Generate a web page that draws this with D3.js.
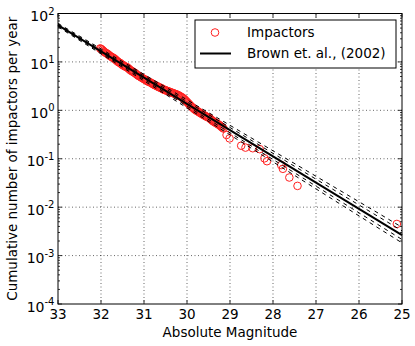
<!DOCTYPE html>
<html>
<head>
<meta charset="utf-8">
<script src="https://cdn.jsdelivr.net/npm/d3@7"></script>
<style>
  body { margin: 0; background: #fff; }
  svg text { font-family: "DejaVu Sans", sans-serif; fill: #000; }
</style>
</head>
<body>
<div id="chart"></div>
<script>
// Impactors: absolute magnitude and cumulative number per year
const impactH = [32.02, 32.00, 31.975, 31.95, 31.925, 31.90, 31.875, 31.85, 31.825, 31.80,
  31.775, 31.75, 31.725, 31.70, 31.675, 31.65, 31.625, 31.60, 31.575, 31.55,
  31.525, 31.50, 31.475, 31.45, 31.425, 31.40, 31.375, 31.35, 31.325, 31.30,
  31.275, 31.25, 31.225, 31.20, 31.175, 31.15, 31.125, 31.10, 31.075, 31.05,
  31.025, 31.00, 30.975, 30.95, 30.925, 30.90, 30.875, 30.85, 30.825, 30.80,
  30.775, 30.75, 30.725, 30.70, 30.675, 30.65, 30.625, 30.60, 30.575, 30.55,
  30.525, 30.50, 30.475, 30.45, 30.425, 30.40, 30.375, 30.35, 30.325, 30.30,
  30.275, 30.25, 30.225, 30.20, 30.175, 30.15, 30.125, 30.10, 30.075, 30.05,
  30.025, 30.00, 29.975, 29.95, 29.925, 29.90, 29.875, 29.85, 29.825, 29.80,
  29.775, 29.75, 29.725, 29.70, 29.675, 29.65, 29.625, 29.60, 29.575, 29.55,
  29.525, 29.50, 29.475, 29.45, 29.425, 29.40, 29.375, 29.35, 29.325, 29.30,
  29.275, 29.25, 29.225, 29.20, 29.175, 29.15,
  29.08, 29.01, 28.74, 28.64, 28.47, 28.31, 28.20, 28.14, 27.81, 27.77,
  27.62, 27.43, 25.12];
const impactN = [19.0, 18.6, 17.8, 17.0, 16.2, 15.6, 15.1, 14.7, 14.1, 13.5,
  13.0, 12.6, 12.3, 11.9, 11.4, 10.9, 10.4, 10.0, 9.7, 9.4,
  9.0, 8.65, 8.4, 8.13, 7.95, 7.82, 7.5, 7.18, 6.85, 6.59,
  6.4, 6.19, 6.0, 5.81, 5.55, 5.33, 5.15, 5.01, 4.86, 4.71,
  4.57, 4.43, 4.3, 4.16, 4.03, 3.91, 3.84, 3.76, 3.64, 3.53,
  3.42, 3.31, 3.25, 3.18, 3.08, 2.99, 2.94, 2.88, 2.79, 2.70,
  2.65, 2.60, 2.55, 2.50, 2.45, 2.40, 2.36, 2.31, 2.27, 2.22,
  2.18, 2.14, 2.10, 2.05, 1.99, 1.93, 1.87, 1.81, 1.74, 1.66,
  1.57, 1.49, 1.41, 1.34, 1.27, 1.20, 1.15, 1.10, 1.05, 1.01,
  0.98, 0.955, 0.92, 0.893, 0.865, 0.839, 0.81, 0.789, 0.765, 0.741,
  0.727, 0.713, 0.685, 0.655, 0.628, 0.601, 0.583, 0.565, 0.548, 0.531,
  0.514, 0.498, 0.477, 0.457, 0.438, 0.42,
  0.31, 0.263, 0.186, 0.17, 0.165, 0.158, 0.102, 0.089, 0.074, 0.062,
  0.041, 0.0275, 0.0045];

// Brown et al. (2002) fit and its uncertainty lines, ends at H = 33 and H = 25
const fitEndH = [33, 25];
const fitN = [57.5, 0.00265];
const bandN = [
  [62.5, 0.00385],
  [60.0, 0.00325],
  [55.0, 0.00215],
  [53.0, 0.00183]
];

const xTicks = [33, 32, 31, 30, 29, 28, 27, 26, 25];
const yExps = [-4, -3, -2, -1, 0, 1, 2];

const W = 415, H = 346;
const margin = { top: 13.5, right: 13, bottom: 42, left: 58 },
    width = W - margin.left - margin.right,
    height = H - margin.top - margin.bottom;

const svg = d3.select("#chart").append("svg")
    .attr("width", W)
    .attr("height", H);

const g = svg.append("g")
    .attr("transform", "translate(" + margin.left + "," + margin.top + ")");

const x = d3.scaleLinear().domain([33, 25]).range([0, width]);
const y = d3.scaleLog().domain([1e-4, 1e2]).range([height, 0]);

// grid
g.append("g").selectAll("line").data(xTicks.slice(1, -1)).join("line")
    .attr("x1", d => x(d)).attr("x2", d => x(d))
    .attr("y1", 0).attr("y2", height)
    .attr("stroke", "#000").attr("stroke-width", 0.6)
    .attr("stroke-dasharray", "1,2.5");
g.append("g").selectAll("line").data(yExps.slice(1, -1)).join("line")
    .attr("x1", 0).attr("x2", width)
    .attr("y1", d => y(Math.pow(10, d))).attr("y2", d => y(Math.pow(10, d)))
    .attr("stroke", "#000").attr("stroke-width", 0.6)
    .attr("stroke-dasharray", "1,2.5");

// impactors
g.append("g").selectAll("circle").data(impactH).join("circle")
    .attr("cx", (d, i) => x(d))
    .attr("cy", (d, i) => y(impactN[i]))
    .attr("r", 3.8)
    .attr("fill", "none")
    .attr("stroke", "#ff2020")
    .attr("stroke-width", 1);

const line = d3.line().x(d => x(d[0])).y(d => y(d[1]));

// uncertainty lines
bandN.forEach(b => {
  g.append("path")
      .attr("d", line([[fitEndH[0], b[0]], [fitEndH[1], b[1]]]))
      .attr("fill", "none")
      .attr("stroke", "#000")
      .attr("stroke-width", 1)
      .attr("stroke-dasharray", "4,4");
});

// fit
g.append("path")
    .attr("d", line([[fitEndH[0], fitN[0]], [fitEndH[1], fitN[1]]]))
    .attr("fill", "none")
    .attr("stroke", "#000")
    .attr("stroke-width", 2);

// ticks (inward, all four sides)
const tk = g.append("g").attr("stroke", "#000").attr("stroke-width", 0.8);
xTicks.forEach(t => {
  tk.append("line").attr("x1", x(t)).attr("x2", x(t)).attr("y1", height).attr("y2", height - 4);
  tk.append("line").attr("x1", x(t)).attr("x2", x(t)).attr("y1", 0).attr("y2", 4);
});
yExps.forEach(e => {
  const v = Math.pow(10, e);
  tk.append("line").attr("x1", 0).attr("x2", 4).attr("y1", y(v)).attr("y2", y(v));
  tk.append("line").attr("x1", width).attr("x2", width - 4).attr("y1", y(v)).attr("y2", y(v));
  if (e < 2) {
    for (let m = 2; m <= 9; m++) {
      const mv = m * v;
      tk.append("line").attr("x1", 0).attr("x2", 2).attr("y1", y(mv)).attr("y2", y(mv));
      tk.append("line").attr("x1", width).attr("x2", width - 2).attr("y1", y(mv)).attr("y2", y(mv));
    }
  }
});

// frame
g.append("rect")
    .attr("width", width).attr("height", height)
    .attr("fill", "none").attr("stroke", "#000").attr("stroke-width", 1);

// tick labels
g.append("g").selectAll("text").data(xTicks).join("text")
    .attr("x", d => x(d))
    .attr("y", height + 14.5)
    .attr("text-anchor", "middle")
    .attr("font-size", 13.5)
    .text(d => d);

const yl = g.append("g").selectAll("text").data(yExps).join("text")
    .attr("x", -3.5)
    .attr("y", d => y(Math.pow(10, d)) + 7.5)
    .attr("text-anchor", "end")
    .attr("font-size", 14);
yl.append("tspan").text("10");
yl.append("tspan").attr("dy", -6.5).attr("font-size", 10).text(d => d < 0 ? "-" + (-d) : d);

// axis titles
svg.append("text")
    .attr("x", margin.left + width / 2)
    .attr("y", 337)
    .attr("text-anchor", "middle")
    .attr("font-size", 13.5)
    .text("Absolute Magnitude");

svg.append("text")
    .attr("transform", "translate(17," + (margin.top + height / 2) + ") rotate(-90)")
    .attr("text-anchor", "middle")
    .attr("font-size", 13.5)
    .text("Cumulative number of impactors per year");

// legend
const lg = svg.append("g");
lg.append("rect")
    .attr("x", 195).attr("y", 20).attr("width", 201).attr("height", 48)
    .attr("fill", "#fff").attr("stroke", "#000").attr("stroke-width", 1);
lg.append("circle")
    .attr("cx", 215).attr("cy", 32.5).attr("r", 3.8)
    .attr("fill", "none").attr("stroke", "#ff2020").attr("stroke-width", 1);
lg.append("line")
    .attr("x1", 200).attr("x2", 231).attr("y1", 53.5).attr("y2", 53.5)
    .attr("stroke", "#000").attr("stroke-width", 2);
lg.append("text").attr("x", 247).attr("y", 37).attr("font-size", 13.5).text("Impactors");
lg.append("text").attr("x", 247).attr("y", 58).attr("font-size", 13.5).text("Brown et. al., (2002)");
</script>
</body>
</html>
